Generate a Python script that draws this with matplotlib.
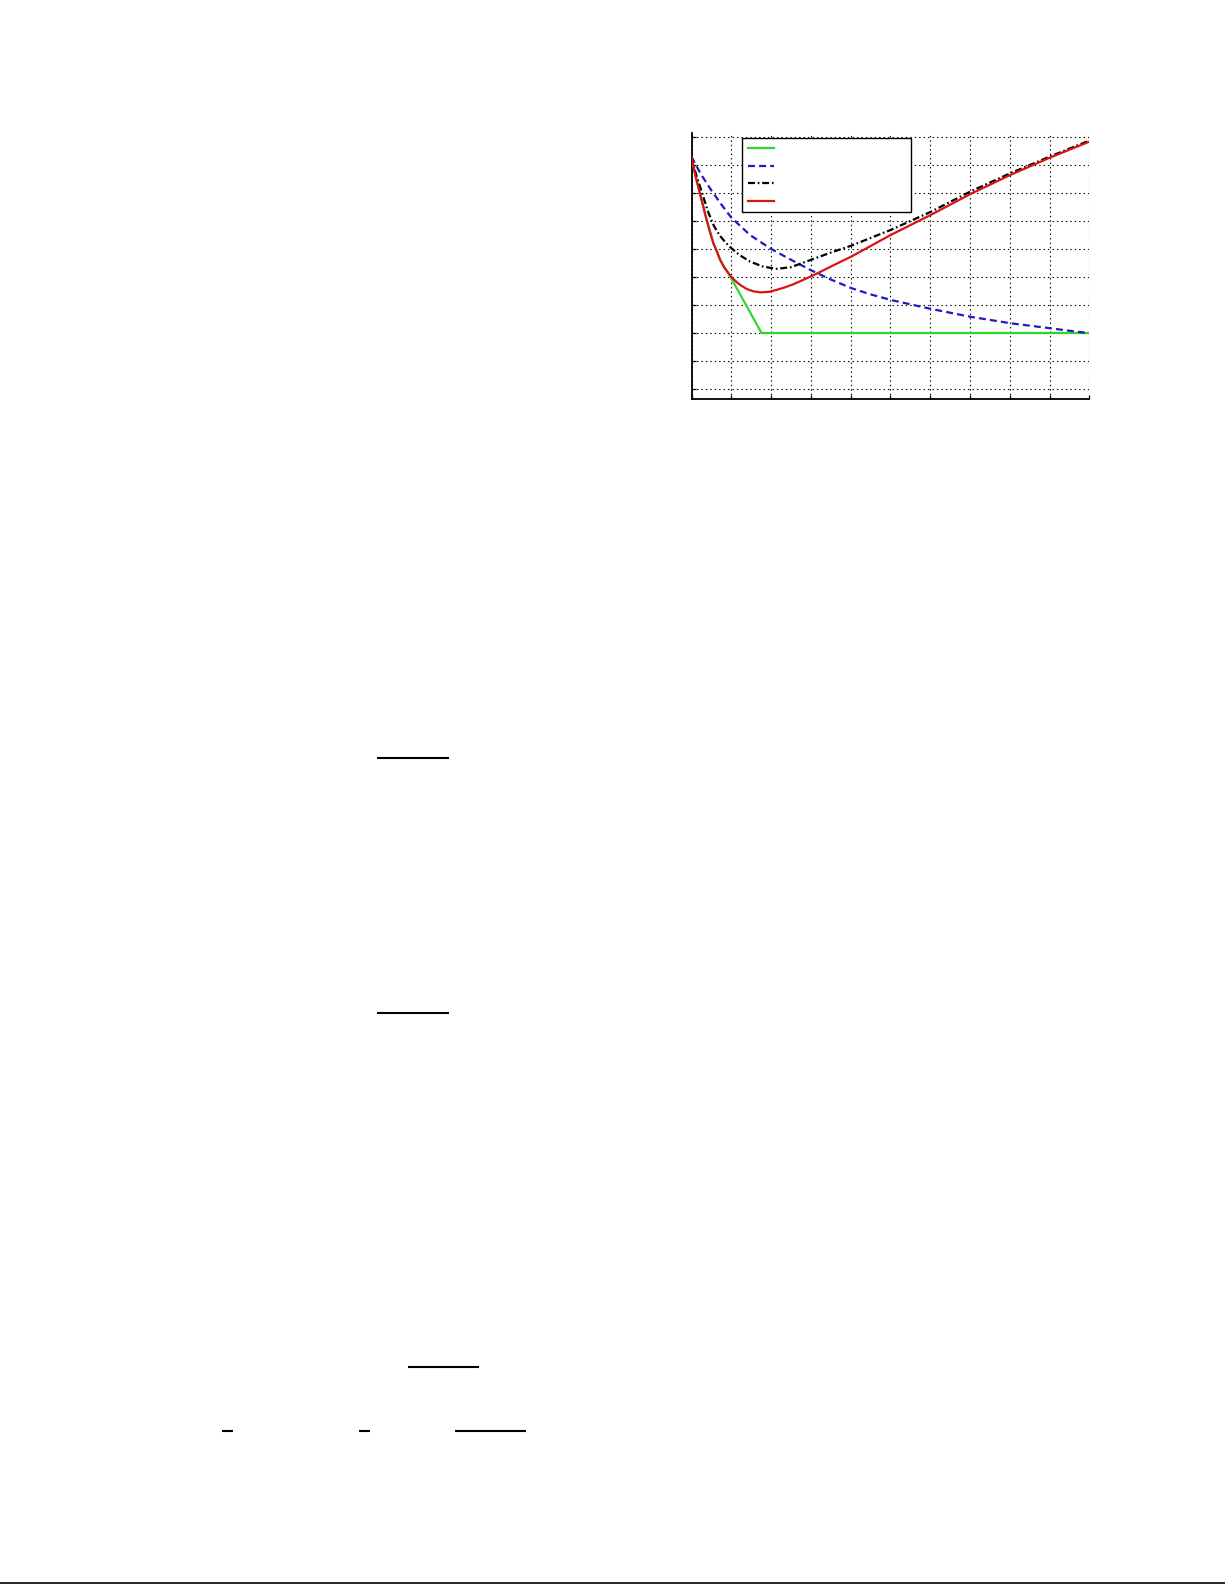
import matplotlib
matplotlib.use("Agg")
import matplotlib.pyplot as plt
from matplotlib.lines import Line2D

plt.rcParams['font.family'] = ['DejaVu Sans']
plt.rcParams['lines.scale_dashes'] = False

#region DATA (arbitrary units, no tick labels in the source)
green_x = [0, 0.05, 0.1, 0.2, 0.3, 0.38, 0.47, 0.55, 0.63, 0.72, 0.82, 0.93, 1.76, 10]
green_y = [8.31, 7.95, 7.62, 7.06, 6.5, 6.05, 5.6, 5.21, 4.95, 4.62, 4.36, 4.14, 2.01, 2.01]

blue_x = [0, 0.1, 0.25, 0.5, 0.75, 1.0, 1.47, 1.98, 2.48, 2.99, 3.5, 4.02, 4.5, 5.01, 6.02, 7.01, 8.01, 9.01, 10]
blue_y = [8.31, 8.03, 7.65, 7.1, 6.6, 6.13, 5.51, 5.03, 4.64, 4.26, 3.92, 3.61, 3.39, 3.19, 2.87, 2.59, 2.36, 2.18, 2.0]

black_x = [0, 0.06, 0.12, 0.2, 0.27, 0.4, 0.54, 0.65, 0.75, 0.87, 1.0, 1.2, 1.47, 1.8, 2.14, 2.5, 3.0, 3.5, 4.02, 5.01, 6.02, 7.01, 8.01, 9.01, 10]
black_y = [8.31, 7.95, 7.65, 7.3, 7.0, 6.4, 5.9, 5.62, 5.42, 5.22, 5.04, 4.8, 4.56, 4.38, 4.30, 4.36, 4.62, 4.88, 5.13, 5.69, 6.34, 7.06, 7.71, 8.31, 8.88]

red_x = [0, 0.05, 0.1, 0.2, 0.3, 0.38, 0.47, 0.55, 0.63, 0.72, 0.82, 0.93, 1.03, 1.14, 1.25, 1.39, 1.55, 1.74, 1.95, 2.14, 2.35,
         2.56, 2.8, 3.12, 3.5, 4.02, 5.01, 6.02, 7.01, 8.01, 9.01, 10]
red_y = [8.31, 7.95, 7.62, 7.06, 6.5, 6.05, 5.6, 5.21, 4.95, 4.62, 4.36, 4.14, 3.97, 3.82, 3.7, 3.58, 3.5, 3.46, 3.48, 3.55, 3.64,
         3.75, 3.9, 4.11, 4.38, 4.74, 5.51, 6.23, 6.97, 7.65, 8.27, 8.84]

xticks = list(range(0, 11))
yticks = list(range(0, 10))
#endregion

fig = plt.figure(figsize=(12.25, 15.85), dpi=100)
W, H = 1225.0, 1585.0

ax = fig.add_axes([691.5 / W, 1 - 399.3 / H, (1089.3 - 691.5) / W, (399.3 - 133.0) / H])

l1, = ax.plot(green_x, green_y, color="#2fd62f", lw=1.6, zorder=3)
l2, = ax.plot(blue_x, blue_y, color="#1c1cc4", lw=1.6, dashes=(5, 3), zorder=3)
l3, = ax.plot(black_x, black_y, color="k", lw=1.6, dashes=(5, 2, 1.2, 2), zorder=3)
l4, = ax.plot(red_x, red_y, color="#d91414", lw=1.6, zorder=4)

ax.set_xlim(0, 10)
ax.set_ylim(-0.357, 9.15)
ax.set_xticks(xticks)
ax.set_yticks(yticks)
ax.set_xticklabels([])
ax.set_yticklabels([])
ax.tick_params(direction="in", length=3, width=0.9, top=False, right=False)
ax.grid(True, color="k", linestyle=(0, (1, 2.2)), linewidth=0.8)
ax.spines["top"].set_visible(False)
ax.spines["right"].set_visible(False)
ax.spines["left"].set_linewidth(1.3)
ax.spines["bottom"].set_linewidth(1.3)

# legend without text, same as the source
leg = ax.legend([l1, l2, l3, l4], [" ", " ", " ", " "], loc="upper left",
                bbox_to_anchor=(0.1277, 0.0, 0.4233, 0.98), mode="expand", borderaxespad=0,
                fontsize=8, labelspacing=0.68, handlelength=2.35, borderpad=0.5,
                fancybox=False, framealpha=1, edgecolor="k")
leg.get_frame().set_linewidth(1.0)

# page leftovers: fraction bars and the footer rule
def hbar(x0, x1, y, lw=1.5):
    fig.add_artist(Line2D([x0 / W, x1 / W], [1 - y / H, 1 - y / H], color="k", lw=lw, solid_capstyle="butt"))

hbar(377, 449, 758)
hbar(377, 449, 1012.7)
hbar(408, 479, 1367)
hbar(222, 233, 1431)
hbar(359, 370, 1431)
hbar(455, 526, 1431)
hbar(0, 1225, 1583.3, lw=1.2)

fig.savefig("out.png", dpi=100)
